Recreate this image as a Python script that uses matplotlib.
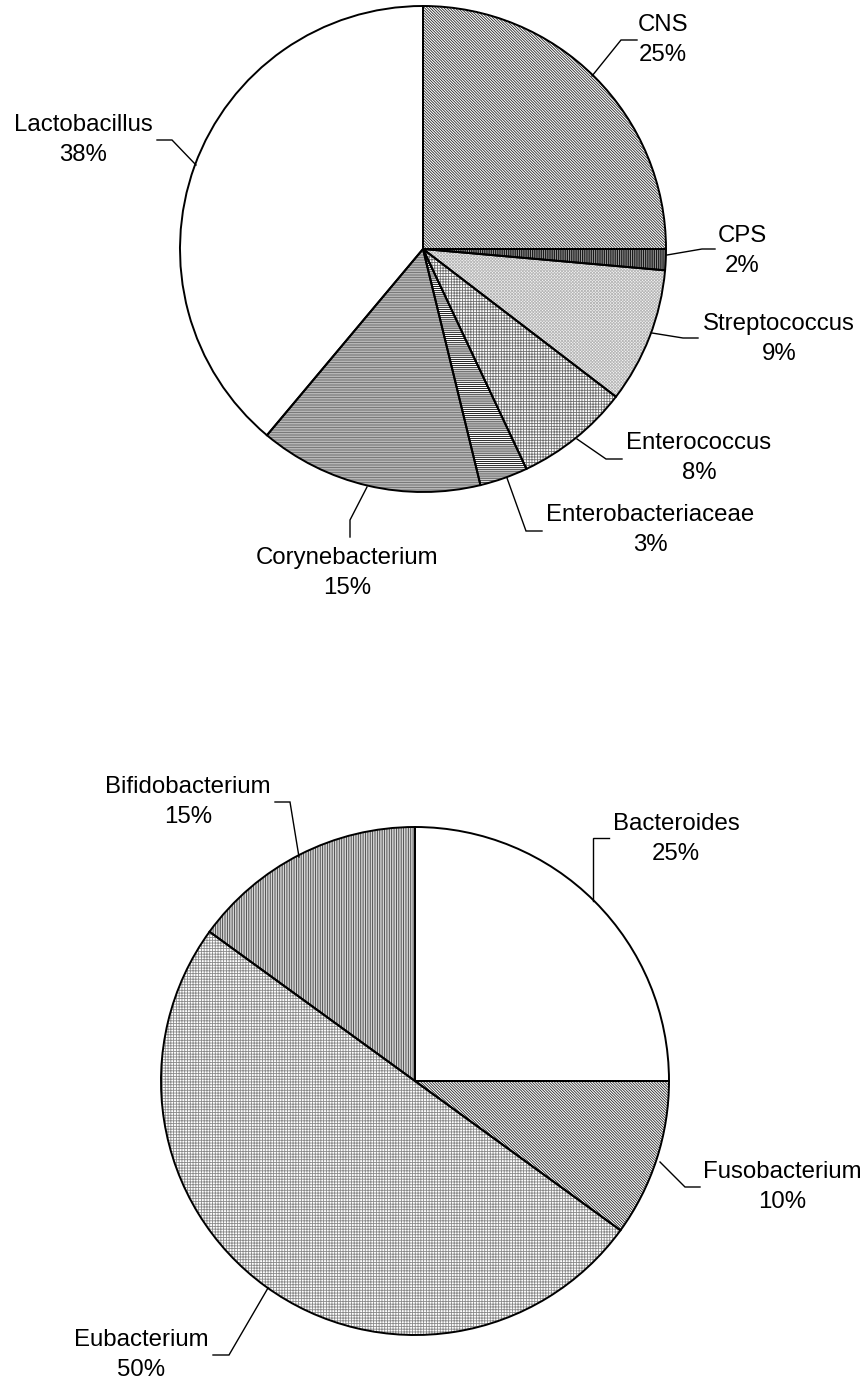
import matplotlib
matplotlib.use("Agg")
import matplotlib.pyplot as plt

plt.rcParams['font.family'] = ['Liberation Sans', 'DejaVu Sans']
plt.rcParams['hatch.linewidth'] = 0.6

W, H = 864, 1381

# --- data (top pie: skin / milk flora, bottom pie: gut flora) ---
top_names = ['CNS', 'CPS', 'Streptococcus', 'Enterococcus',
             'Enterobacteriaceae', 'Corynebacterium', 'Lactobacillus']
top_values = [25, 1.4, 9.0, 7.6, 3.2, 14.9, 38.9]
top_pct = ['25%', '2%', '9%', '8%', '3%', '15%', '38%']

bot_names = ['Bacteroides', 'Fusobacterium', 'Eubacterium', 'Bifidobacterium']
bot_values = [25, 10, 50, 15]
bot_pct = ['25%', '10%', '50%', '15%']

# fill styles: (face, hatch, hatch colour)
top_style = [
    ('white', '\\' * 12, '#2a2a2a'),
    ('#9a9a9a', '|' * 9, 'black'),
    ('#f6f6f6', 'x' * 11, '#b8b8b8'),
    ('white', '+' * 6, '#707070'),
    ('white', '-' * 8, 'black'),
    ('#d0d0d0', '-' * 10, '#6a6a6a'),
    ('white', '', 'black'),
]
bot_style = [
    ('white', '', 'black'),
    ('white', '\\' * 12, '#2a2a2a'),
    ('white', '+' * 6, '#8a8a8a'),
    ('#d4d4d4', '|' * 7, '#404040'),
]

# label layout, image pixel coords: text centre, leader path
top_labels = [
    ((663, 40), [(592, 76), (621, 40), (637, 40)]),
    ((742, 251), [(667, 255), (702, 249), (715, 249)]),
    ((779, 339), [(652, 333), (683, 338), (698, 338)]),
    ((699, 458), [(577, 439), (606, 459), (622, 459)]),
    ((650, 530), [(507, 478), (526, 531), (542, 531)]),
    ((347, 573), [(367, 487), (350, 520), (350, 537)]),
    ((83, 140), [(196, 165), (172, 140), (157, 140)]),
]
bot_labels = [
    ((676, 839), [(593, 901), (593, 838), (609, 838)]),
    ((782, 1187), [(660, 1162), (685, 1187), (700, 1187)]),
    ((141, 1355), [(268, 1288), (229, 1355), (213, 1355)]),
    ((188, 802), [(299, 857), (290, 802), (275, 802)]),
]


def draw_pie(ax, values, styles, center, radius):
    c = (center[0], H - center[1])
    under, _ = ax.pie(values, startangle=90, counterclock=False, center=c,
                      radius=radius, colors=[s[0] for s in styles],
                      hatch=[s[1] for s in styles],
                      wedgeprops=dict(linewidth=0))
    for w, s in zip(under, styles):
        w.set_edgecolor(s[2])
    ax.pie(values, startangle=90, counterclock=False, center=c, radius=radius,
           wedgeprops=dict(fill=False, linewidth=1.4, edgecolor='black'))


def draw_labels(ax, names, pcts, layout):
    for name, pct, (pos, path) in zip(names, pcts, layout):
        ax.text(pos[0], H - pos[1], name + '\n' + pct, ha='center', va='center',
                multialignment='center', fontsize=17.3, linespacing=1.47,
                color='black')
        ax.plot([p[0] for p in path], [H - p[1] for p in path],
                color='black', lw=1.0, solid_joinstyle='miter')


fig = plt.figure(figsize=(W / 100, H / 100), dpi=100)
ax = fig.add_axes([0, 0, 1, 1])

draw_pie(ax, top_values, top_style, (423, 249), 243)
draw_pie(ax, bot_values, bot_style, (415, 1081), 254)
draw_labels(ax, top_names, top_pct, top_labels)
draw_labels(ax, bot_names, bot_pct, bot_labels)

ax.set_xlim(0, W)
ax.set_ylim(0, H)
ax.set_aspect('auto')
ax.axis('off')

fig.savefig('out.png', dpi=100, facecolor='white')
